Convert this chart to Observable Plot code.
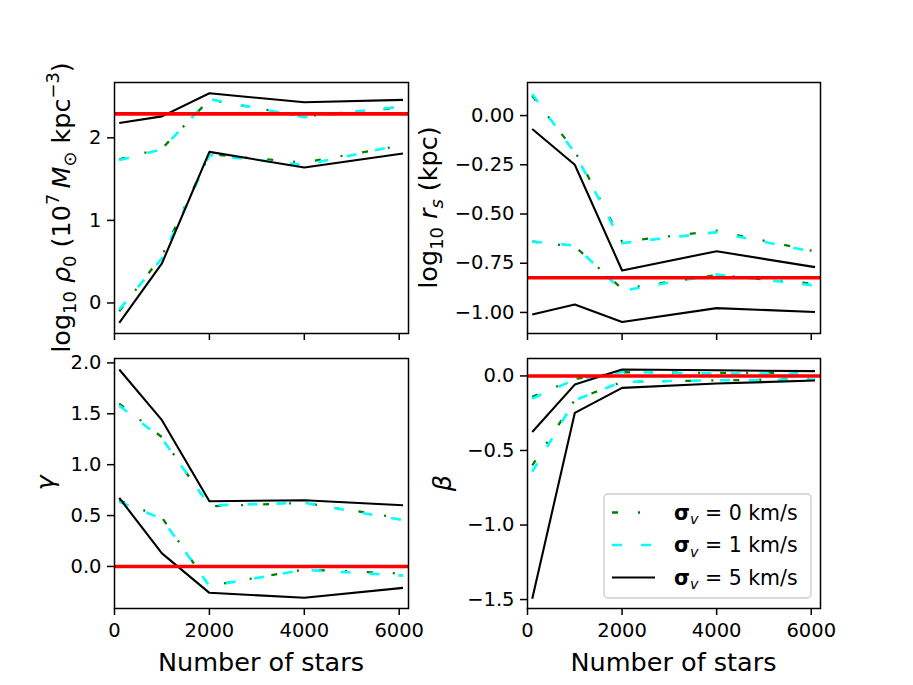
<!DOCTYPE html>
<html><head><meta charset="utf-8">
<script src="https://cdn.jsdelivr.net/npm/d3@7"></script>
<script src="https://cdn.jsdelivr.net/npm/@observablehq/plot@0.6"></script>
<style>
html,body{margin:0;padding:0;background:#fff;}
#fig{position:relative;width:913px;height:685px;overflow:hidden;background:#fff;}
#fig svg{position:absolute;}
</style></head><body><div id="fig"></div>
<script>
// ---------- data ----------
const nStars = [100, 1000, 2000, 4000, 6080];
const xTicks = [0, 2000, 4000, 6000];
const xLabel = "Number of stars";
const sigmaValues = ["0", "1", "5"];           // σ_v in km/s for the three series
const legendUnit = "km/s";

// log10 rho0 (top-left)
const rho0Hi_s0 = [1.74, 1.87, 2.46, 2.26, 2.37];
const rho0Lo_s0 = [-0.10, 0.57, 1.80, 1.70, 1.91];
const rho0Hi_s1 = [1.73, 1.86, 2.47, 2.25, 2.38];
const rho0Lo_s1 = [-0.08, 0.54, 1.79, 1.67, 1.92];
const rho0Hi_s5 = [2.18, 2.26, 2.54, 2.43, 2.46];
const rho0Lo_s5 = [-0.24, 0.48, 1.83, 1.64, 1.81];
const rho0True = 2.29;
const rho0Ticks = [0, 1, 2];

// log10 r_s (top-right)
const rsHi_s0 = [0.10, -0.18, -0.64, -0.585, -0.69];
const rsLo_s0 = [-0.64, -0.665, -0.88, -0.81, -0.855];
const rsHi_s1 = [0.11, -0.19, -0.648, -0.592, -0.694];
const rsLo_s1 = [-0.64, -0.66, -0.89, -0.807, -0.863];
const rsHi_s5 = [-0.068, -0.25, -0.787, -0.689, -0.77];
const rsLo_s5 = [-1.01, -0.96, -1.049, -0.978, -0.998];
const rsTrue = -0.824;
const rsTicks = [0, -0.25, -0.5, -0.75, -1];

// gamma (bottom-left)
const gamHi_s0 = [1.60, 1.27, 0.59, 0.625, 0.47];
const gamLo_s0 = [0.65, 0.48, -0.19, -0.03, -0.07];
const gamHi_s1 = [1.58, 1.257, 0.60, 0.625, 0.455];
const gamLo_s1 = [0.635, 0.47, -0.193, -0.033, -0.09];
const gamHi_s5 = [1.935, 1.437, 0.641, 0.651, 0.602];
const gamLo_s5 = [0.674, 0.128, -0.259, -0.308, -0.21];
const gamTrue = 0;
const gamTicks = [0, 0.5, 1, 1.5, 2];

// beta (bottom-right)
const betHi_s0 = [-0.14, -0.02, 0.025, 0.02, 0.02];
const betLo_s0 = [-0.60, -0.16, -0.04, -0.03, -0.02];
const betHi_s1 = [-0.152, -0.024, 0.027, 0.016, 0.016];
const betLo_s1 = [-0.644, -0.163, -0.040, -0.029, -0.024];
const betHi_s5 = [-0.376, -0.058, 0.043, 0.038, 0.032];
const betLo_s5 = [-1.494, -0.248, -0.080, -0.051, -0.031];
const betTrue = 0;
const betTicks = [0, -0.5, -1, -1.5];

// ---------- styles ----------
const seriesStyle = [
  {stroke: "#008000", strokeWidth: 2.3, strokeDasharray: "6,20,2,20", strokeLinecap: "butt"},
  {stroke: "#00ffff", strokeWidth: 2.6, strokeDasharray: "10,19", strokeLinecap: "butt"},
  {stroke: "#000000", strokeWidth: 2.1, strokeLinecap: "butt"}
];
const FONT = "DejaVu Sans";
const TICK_FS = 19.5, LABEL_FS = 25.5, LEGEND_FS = 20.5;

function buildRows(hiList, loList) {
  const rows = [];
  hiList.forEach((arr, s) => arr.forEach((v, i) => rows.push({n: nStars[i], v, s, b: "hi"})));
  loList.forEach((arr, s) => arr.forEach((v, i) => rows.push({n: nStars[i], v, s, b: "lo"})));
  return rows;
}

function addMath(textSel, parts, size) {
  let cur = 0;
  for (const p of parts) {
    const shift = (p.sub ? 0.22 : p.sup ? -0.42 : 0) * size;
    const fs = (p.sub || p.sup) ? size * 0.7 : size;
    textSel.append("tspan")
      .attr("dy", shift - cur)
      .attr("font-size", fs)
      .attr("font-style", p.it ? "italic" : null)
      .attr("font-weight", p.b ? "bold" : null)
      .text(p.t);
    cur = shift;
  }
}

const fig = document.getElementById("fig");

function panel(cfg) {
  const rows = buildRows(cfg.hi, cfg.lo);
  const marks = [];
  seriesStyle.forEach((st, s) => {
    marks.push(Plot.line(rows.filter(d => d.s === s), {x: "n", y: "v", z: "b", ...st}));
  });
  marks.push(Plot.ruleY([cfg.truth], {stroke: "#ff0000", strokeWidth: 3.6}));
  marks.push(Plot.axisX({ticks: xTicks, tickSize: 7, tickPadding: 8, strokeWidth: 1.5,
    tickFormat: cfg.showX ? d3.format("d") : () => "", label: null}));
  marks.push(Plot.axisY({ticks: cfg.yTicks, tickSize: 7, tickPadding: 6, strokeWidth: 1.5,
    tickFormat: d3.format(cfg.yFmt), label: null}));
  marks.push(Plot.frame({stroke: "black", strokeWidth: 1.5}));
  const svg = Plot.plot({
    width: cfg.w, height: cfg.h,
    marginLeft: cfg.mL, marginRight: cfg.mR, marginTop: cfg.mT, marginBottom: cfg.mB,
    x: {domain: [0, 6196]},
    y: {domain: cfg.yDomain},
    style: {background: "transparent", fontFamily: FONT, fontSize: TICK_FS + "px", color: "black", overflow: "visible"},
    marks
  });
  svg.style.left = cfg.left + "px";
  svg.style.top = cfg.top + "px";
  fig.appendChild(svg);
  const s = d3.select(svg);
  // y label (rotated)
  const yc = (cfg.mT + cfg.h - cfg.mB) / 2;
  const t = s.append("text")
    .attr("transform", `translate(${cfg.mL - cfg.yLabelOffset},${yc}) rotate(-90)`)
    .attr("text-anchor", "middle")
    .attr("font-family", FONT).attr("font-size", LABEL_FS).attr("fill", "black")
    .style("white-space", "pre");
  addMath(t, cfg.yLabel, LABEL_FS);
  if (cfg.showX) {
    const xc = (cfg.mL + cfg.w - cfg.mR) / 2;
    s.append("text").attr("x", xc).attr("y", cfg.h - cfg.mB + 63)
      .attr("text-anchor", "middle").attr("font-family", FONT)
      .attr("font-size", LABEL_FS).attr("fill", "black").text(xLabel);
  }
  return {svg, s, cfg};
}

panel({left: 0, top: 0, w: 420, h: 345, mL: 114, mR: 12, mT: 82, mB: 12,
  hi: [rho0Hi_s0, rho0Hi_s1, rho0Hi_s5], lo: [rho0Lo_s0, rho0Lo_s1, rho0Lo_s5],
  truth: rho0True, yTicks: rho0Ticks, yFmt: "d", yDomain: [-0.37, 2.67], showX: false,
  yLabelOffset: 44,
  yLabel: [{t: "log"}, {t: "10", sub: 1}, {t: " "}, {t: "ρ", it: 1}, {t: "0", sub: 1},
           {t: " (10"}, {t: "7", sup: 1}, {t: "\u2009"}, {t: "M", it: 1}, {t: "⊙", sub: 1},
           {t: " kpc"}, {t: "−3", sup: 1}, {t: ")"}]});

panel({left: 420, top: 0, w: 493, h: 345, mL: 107, mR: 93, mT: 82, mB: 12,
  hi: [rsHi_s0, rsHi_s1, rsHi_s5], lo: [rsLo_s0, rsLo_s1, rsLo_s5],
  truth: rsTrue, yTicks: rsTicks, yFmt: ".2f", yDomain: [-1.107, 0.168], showX: false,
  yLabelOffset: 90,
  yLabel: [{t: "log"}, {t: "10", sub: 1}, {t: " "}, {t: "r", it: 1}, {t: "s", it: 1, sub: 1}, {t: " (kpc)"}]});

panel({left: 0, top: 345, w: 420, h: 340, mL: 114, mR: 12, mT: 13, mB: 77,
  hi: [gamHi_s0, gamHi_s1, gamHi_s5], lo: [gamLo_s0, gamLo_s1, gamLo_s5],
  truth: gamTrue, yTicks: gamTicks, yFmt: ".1f", yDomain: [-0.413, 2.043], showX: true,
  yLabelOffset: 60, yLabel: [{t: "γ", it: 1}]});

const br = panel({left: 420, top: 345, w: 493, h: 340, mL: 107, mR: 93, mT: 13, mB: 77,
  hi: [betHi_s0, betHi_s1, betHi_s5], lo: [betLo_s0, betLo_s1, betLo_s5],
  truth: betTrue, yTicks: betTicks, yFmt: ".1f", yDomain: [-1.56, 0.117], showX: true,
  yLabelOffset: 76, yLabel: [{t: "β", it: 1}]});

// ---------- legend (inside bottom-right panel) ----------
{
  const s = br.s;
  const bx = 184, by = 149, bw = 207, bh = 104;
  const g = s.append("g").attr("text-anchor", "start");
  g.append("rect").attr("x", bx).attr("y", by).attr("width", bw).attr("height", bh)
    .attr("rx", 4).attr("fill", "white").attr("fill-opacity", 0.8)
    .attr("stroke", "#cccccc").attr("stroke-width", 1.3);
  const rowY = [167.5, 200, 232.5];
  seriesStyle.forEach((st, i) => {
    g.append("line").attr("x1", bx + 8).attr("x2", bx + 51).attr("y1", rowY[i]).attr("y2", rowY[i])
      .attr("stroke", st.stroke).attr("stroke-width", st.strokeWidth)
      .attr("stroke-dasharray", st.strokeDasharray || null).attr("stroke-linecap", "butt");
    const t = g.append("text").attr("x", bx + 70).attr("y", rowY[i] + 7.3)
      .attr("text-anchor", "start")
      .attr("font-family", FONT).attr("font-size", LEGEND_FS).attr("fill", "black")
      .style("white-space", "pre");
    addMath(t, [{t: "σ", b: 1}, {t: "v", it: 1, sub: 1}, {t: " = " + sigmaValues[i] + " " + legendUnit}], LEGEND_FS);
  });
}
</script></body></html>
